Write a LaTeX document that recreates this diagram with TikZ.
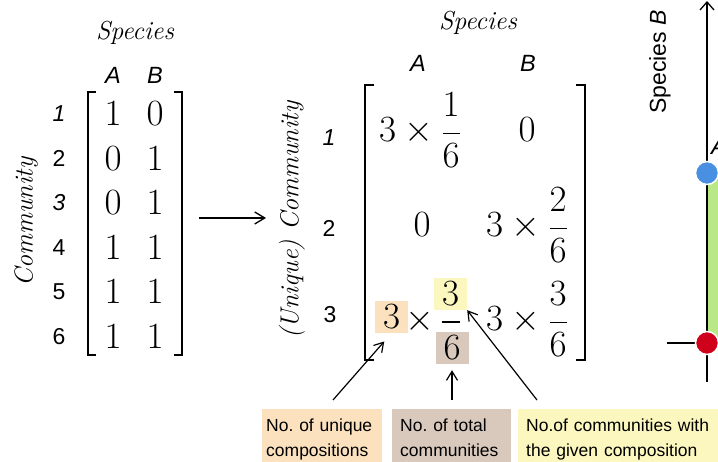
\RequirePackage{fix-cm}
\documentclass[tikz,border=0pt]{standalone}
\usepackage{fontspec}
\newfontfamily\lsans{Liberation Sans}
\usetikzlibrary{arrows.meta}
\definecolor{orng}{RGB}{251,225,190}
\definecolor{tanc}{RGB}{217,201,189}
\definecolor{ylw}{RGB}{252,247,190}
\definecolor{dotblue}{RGB}{74,144,226}
\definecolor{dotred}{RGB}{208,2,27}
\definecolor{grn}{RGB}{184,233,134}
\begin{document}
\frenchspacing
\begin{tikzpicture}[x=1pt,y=-1pt,
  lab/.style={font=\fontsize{26}{30}\selectfont\itshape, inner sep=0},
  hdr/.style={font=\lsans\fontsize{23.5}{27}\selectfont\itshape, inner sep=0},
  rowl/.style={font=\lsans\fontsize{23}{27}\selectfont, inner sep=0},
  ent/.style={font=\fontsize{37}{40}\selectfont, inner sep=0},
  bigent/.style={font=\fontsize{37}{40}\selectfont, inner sep=0, anchor=base},
  brk/.style={line width=2pt},
  annot/.style={font=\lsans\fontsize{17.5}{25}\selectfont, anchor=north west, align=left, inner xsep=6pt, inner ysep=10pt},
  hl/.style={inner sep=0, minimum width=33pt, minimum height=32pt, font=\fontsize{37}{40}\selectfont},
  arr/.style={-{Straight Barb[length=9pt,width=11pt]}, line width=1.2pt},
  dot/.style={circle, draw=white, line width=1.5pt, minimum size=23pt, inner sep=0}
]
\useasboundingbox (0,0) rectangle (718,462);
\clip (0,0) rectangle (718,462);

% ---------- left matrix ----------
\node[lab] (sp1) at (135,33) {Species};
\node[hdr] (hA1) at (113,75) {A};
\node[hdr] (hB1) at (155,75) {B};
\node[lab, rotate=90] (com1) at (26,222) {Community};
\node[rowl] (r1) at (59,114) {\itshape 1};
\node[rowl] (r2) at (59,158.5) {2};
\node[rowl] (r3) at (59,203) {\itshape 3};
\node[rowl] (r4) at (59,247.5) {4};
\node[rowl] (r5) at (59,292) {5};
\node[rowl] (r6) at (59,336.5) {6};
\node[ent] (a11) at (113,114) {$1$}; \node[ent] (a12) at (155,114) {$0$};
\node[ent] (a21) at (113,158.5) {$0$}; \node[ent] (a22) at (155,158.5) {$1$};
\node[ent] (a31) at (113,203) {$0$}; \node[ent] (a32) at (155,203) {$1$};
\node[ent] (a41) at (113,247.5) {$1$}; \node[ent] (a42) at (155,247.5) {$1$};
\node[ent] (a51) at (113,292) {$1$}; \node[ent] (a52) at (155,292) {$1$};
\node[ent] (a61) at (113,336.5) {$1$}; \node[ent] (a62) at (155,336.5) {$1$};
\draw[brk] (96,92) -- (88,92) -- (88,355) -- (96,355);
\draw[brk] (174,92) -- (182,92) -- (182,355) -- (174,355);

% main arrow
\coordinate (m1) at (199,218);
\coordinate (m2) at (266,218);
\draw[-{Straight Barb[length=10pt,width=12pt]}, line width=1.3pt] (m1) -- (m2);

% ---------- right matrix ----------
\node[lab] (sp2) at (478,23) {Species};
\node[hdr] (hA2) at (418,63) {A};
\node[hdr] (hB2) at (528,63) {B};
\node[lab, rotate=90] (com2) at (292,220) {(Unique) Community};
\node[rowl] (q1) at (329,138) {\itshape 1};
\node[rowl] (q2) at (329,228) {2};
\node[rowl] (q3) at (330,315) {3};
\node[bigent] (b11) at (420,142) {$\displaystyle 3\times\frac{1}{6}$};
\node[bigent] (b12) at (527,142) {$0$};
\node[bigent] (b21) at (422,237) {$0$};
\node[bigent] (b22) at (527,237) {$\displaystyle 3\times\frac{2}{6}$};
\node[bigent] (b32) at (527,331) {$\displaystyle 3\times\frac{3}{6}$};
\node[hl, fill=orng] (o3) at (391.5,317) {$3$};
\node[bigent] (x3) at (420,331) {$\times$};
\node[hl, fill=ylw] (y3) at (450.5,294) {$3$};
\node[hl, fill=tanc] (t3) at (452,348) {$6$};
\draw[line width=1.48pt] (441.5,322) -- (460,322);
\draw[brk] (374,85) -- (365,85) -- (365,360) -- (374,360);
\draw[brk] (576,85) -- (585,85) -- (585,360) -- (576,360);

% ---------- annotations ----------
\node[annot, fill=orng, text width=112pt, inner xsep=4pt] (n1) at (262,409) {No. of unique\\compositions};
\node[annot, fill=tanc, text width=103pt, inner xsep=8pt] (n2) at (392,409) {No. of total\\communities};
\node[annot, fill=ylw, text width=220pt, inner xsep=8pt] (n3) at (518,409) {No.of communities with\\the given composition};
\coordinate (s1) at (333,400);
\coordinate (s2) at (452,400);
\coordinate (s3) at (537,400);
\draw[arr, shorten >=11pt] (s1) -- (o3.south);
\draw[arr, shorten >=6pt] (s2) -- (t3.south);
\draw[arr] (s3) -- (y3.south east);

% ---------- right panel ----------
\coordinate (ax0) at (707,382);
\coordinate (ax1) at (707,1);
\coordinate (xa0) at (667,343);
\coordinate (xa1) at (718,343);
\draw[line width=1.3pt] (xa0) -- (xa1);
\draw[line width=1.3pt, -{Straight Barb[length=8pt,width=14pt]}] (ax0) -- (ax1);
\fill[grn] (708,173) rectangle (730,343);
\node[dot, fill=dotblue] (pB) at (707,173) {};
\node[dot, fill=dotred] (pR) at (707,343) {};
\node[rowl, rotate=90] (spB) at (660,62) {Species \textit{B}};
\node[hdr, anchor=base west] (ptA) at (711,155) {A};
\end{tikzpicture}
\end{document}
